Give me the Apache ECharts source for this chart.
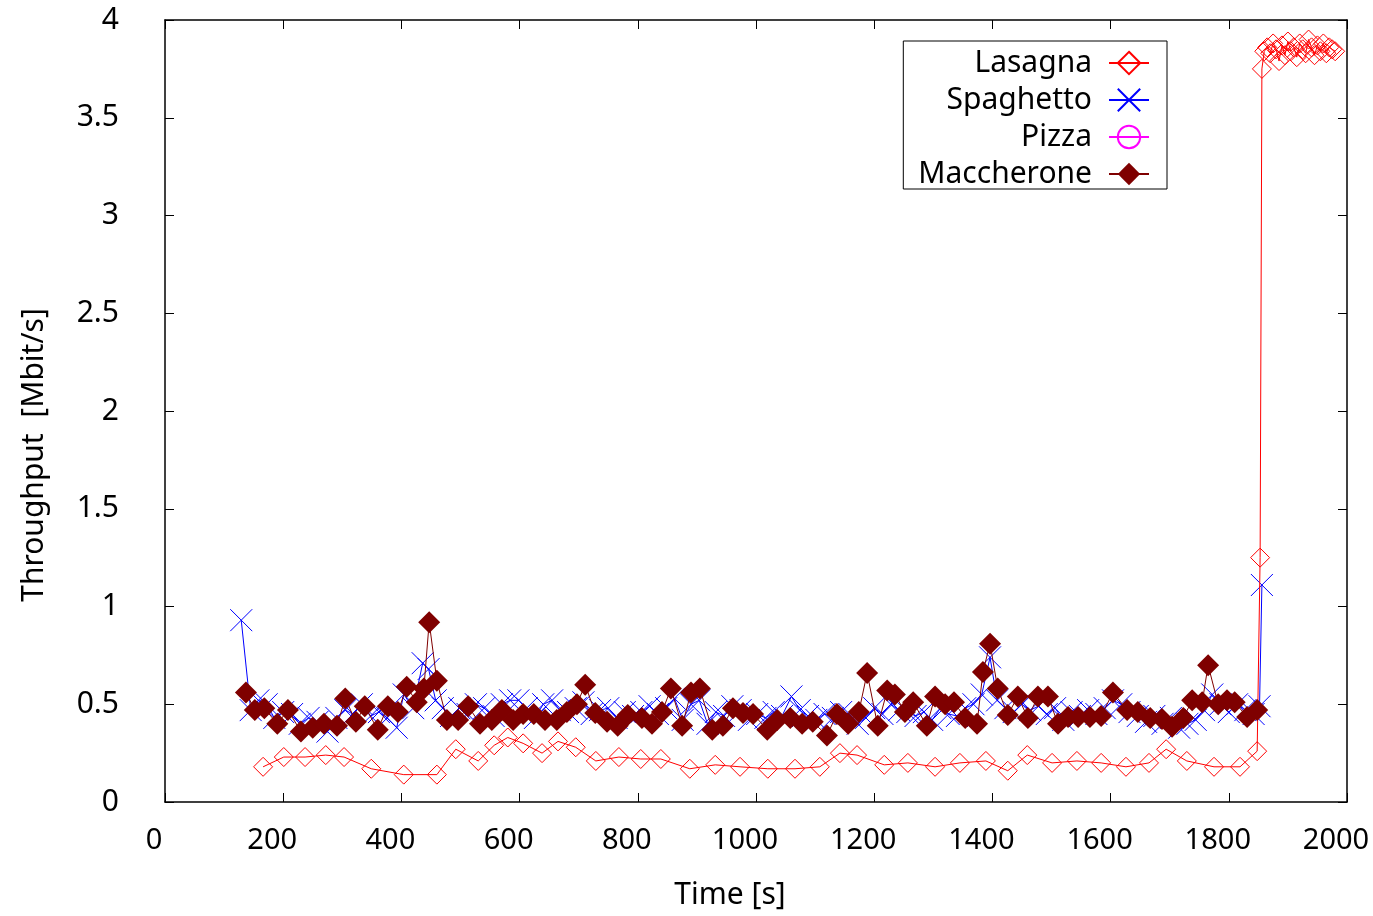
<!DOCTYPE html>
<html>
<head>
<meta charset="utf-8">
<title>Throughput</title>
<script src="https://cdn.jsdelivr.net/npm/echarts@6/dist/echarts.min.js"></script>
<style>
  html, body { margin: 0; padding: 0; background: #fff; overflow: hidden; }
  #chart { width: 100vw; height: 100vh; }
</style>
</head>
<body>
<div id="chart"></div>
<script>
// values: time [s] and throughput [Mbit/s]
var xTicks = [0, 200, 400, 600, 800, 1000, 1200, 1400, 1600, 1800, 2000]
var yTicks = [0, 0.5, 1, 1.5, 2, 2.5, 3, 3.5, 4]

var lasagnaTime = [166, 201, 237, 272, 303, 349, 404, 460, 492, 530, 557, 580, 606, 638, 665, 695,
  729, 768, 805, 839, 888, 931, 973, 1020, 1066, 1108, 1142, 1171, 1217, 1257, 1303, 1345, 1389,
  1426, 1459, 1501, 1543, 1584, 1626, 1665, 1694, 1729, 1775, 1819, 1848, 1853, 1856,
  1860, 1865, 1870, 1875, 1880, 1885, 1890, 1895, 1900, 1905, 1910, 1915, 1920, 1925, 1930,
  1935, 1940, 1945, 1950, 1955, 1960, 1965, 1970, 1975, 1980]
var lasagnaValue = [0.18, 0.23, 0.23, 0.24, 0.23, 0.17, 0.14, 0.14, 0.27, 0.21, 0.29, 0.33, 0.30, 0.25, 0.31, 0.28,
  0.21, 0.23, 0.22, 0.22, 0.17, 0.19, 0.18, 0.17, 0.17, 0.18, 0.25, 0.24, 0.19, 0.20, 0.18, 0.20, 0.21,
  0.16, 0.24, 0.20, 0.21, 0.20, 0.18, 0.20, 0.27, 0.21, 0.18, 0.18, 0.26, 1.25, 3.75,
  3.84, 3.86, 3.83, 3.88, 3.85, 3.79, 3.87, 3.82, 3.89, 3.84, 3.86, 3.81, 3.88, 3.85, 3.83,
  3.90, 3.86, 3.82, 3.87, 3.84, 3.88, 3.83, 3.86, 3.85, 3.84]

var spaghettoTime = [129, 145, 158, 172, 185, 200, 215, 228, 243, 258, 275, 290, 305, 318, 333, 348,
  362, 376, 392, 404, 420, 436, 446, 458, 470, 484, 498, 512, 526, 540, 556, 570, 584, 598, 612,
  626, 640, 655, 668, 682, 695, 708, 722, 736, 750, 764, 778, 792, 806, 820, 834, 848, 862, 876,
  890, 904, 918, 932, 946, 960, 974, 988, 1002, 1016, 1030, 1044, 1060, 1074, 1088, 1102, 1116,
  1130, 1144, 1158, 1172, 1186, 1200, 1214, 1228, 1242, 1256, 1270, 1284, 1298, 1312, 1326, 1340,
  1354, 1368, 1382, 1396, 1408, 1422, 1436, 1450, 1464, 1478, 1492, 1506, 1520, 1534, 1548, 1562,
  1576, 1590, 1604, 1618, 1632, 1646, 1660, 1674, 1688, 1702, 1716, 1730, 1744, 1758, 1772, 1786,
  1800, 1814, 1828, 1842, 1852, 1856]
var spaghettoValue = [0.93, 0.47, 0.52, 0.50, 0.43, 0.46, 0.45, 0.40, 0.43, 0.41, 0.36, 0.43, 0.47, 0.45, 0.50, 0.44,
  0.46, 0.43, 0.38, 0.55, 0.48, 0.71, 0.68, 0.52, 0.48, 0.44, 0.48, 0.45, 0.50, 0.48, 0.44, 0.50, 0.52, 0.52, 0.48,
  0.43, 0.50, 0.52, 0.47, 0.46, 0.48, 0.51, 0.45, 0.47, 0.48, 0.43, 0.46, 0.44, 0.46, 0.49, 0.45, 0.48, 0.53, 0.42,
  0.50, 0.52, 0.40, 0.46, 0.44, 0.49, 0.47, 0.42, 0.45, 0.43, 0.46, 0.44, 0.54, 0.47, 0.44, 0.42, 0.45,
  0.43, 0.46, 0.45, 0.40, 0.43, 0.48, 0.45, 0.50, 0.47, 0.46, 0.44, 0.46, 0.42, 0.48, 0.45, 0.44,
  0.48, 0.50, 0.55, 0.74, 0.52, 0.48, 0.46, 0.50, 0.47, 0.49, 0.45, 0.48, 0.42, 0.46, 0.44, 0.47,
  0.45, 0.48, 0.52, 0.50, 0.46, 0.44, 0.41, 0.44, 0.40, 0.43, 0.38, 0.40, 0.42, 0.47, 0.55, 0.50,
  0.46, 0.50, 0.47, 0.45, 0.49, 1.11]

var pizzaTime = []
var pizzaValue = []

var maccheroneTime = [137, 152, 168, 190, 208, 230, 250, 269, 291, 305, 323, 338, 360, 377, 394, 409, 426, 438, 447, 460,
  477, 496, 513, 533, 553, 570, 589, 606, 624, 643, 663, 680, 697, 711, 728, 748, 766, 783, 807,
  824, 841, 856, 875, 890, 905, 926, 944, 961, 978, 995, 1019, 1036, 1058, 1078, 1096, 1120, 1137, 1156, 1174,
  1188, 1206, 1222, 1235, 1252, 1266, 1289, 1303, 1320, 1335, 1354, 1374, 1384, 1396, 1409, 1426, 1443, 1460, 1477, 1494, 1511,
  1528, 1545, 1565, 1584, 1604, 1628, 1646, 1667, 1687, 1704, 1723, 1738, 1755, 1765, 1782, 1797, 1810, 1831, 1848]
var maccheroneValue = [0.56, 0.47, 0.48, 0.40, 0.47, 0.36, 0.38, 0.40, 0.39, 0.53, 0.41, 0.49, 0.37, 0.49, 0.46, 0.59, 0.51, 0.58, 0.92, 0.62,
  0.42, 0.42, 0.49, 0.40, 0.42, 0.47, 0.42, 0.45, 0.45, 0.42, 0.42, 0.46, 0.50, 0.60, 0.455, 0.41, 0.39, 0.445, 0.43,
  0.40, 0.46, 0.58, 0.39, 0.56, 0.58, 0.37, 0.39, 0.48, 0.455, 0.45, 0.37, 0.42, 0.43, 0.40, 0.41, 0.34, 0.45, 0.40, 0.46,
  0.66, 0.39, 0.57, 0.55, 0.46, 0.51, 0.39, 0.54, 0.50, 0.51, 0.43, 0.40, 0.665, 0.81, 0.58, 0.445, 0.54, 0.43, 0.54, 0.54, 0.40,
  0.435, 0.435, 0.435, 0.44, 0.56, 0.47, 0.46, 0.43, 0.425, 0.385, 0.43, 0.52, 0.51, 0.70, 0.50, 0.52, 0.51, 0.435, 0.47]

function zip(xs, ys) {
  return xs.map(function (x, i) { return [x, ys[i]] })
}

var font = 'Noto Sans'
var chart = echarts.init(document.getElementById('chart'), null, { renderer: 'canvas' })

var tickStyle = { show: true, inside: true, length: 9, lineStyle: { color: '#000', width: 1 } }
var lineBox = { show: true, onZero: false, lineStyle: { color: '#000', width: 1.5 } }

chart.setOption({
  animation: false,
  backgroundColor: '#fff',
  grid: {
    left: 165,
    right: 26,
    top: 20,
    bottom: 114,
    containLabel: false,
    outerBoundsMode: 'none'
  },
  legend: {
    orient: 'vertical',
    align: 'right',
    right: 206,
    top: 41,
    padding: [7, 17, 0, 15],
    itemWidth: 40,
    itemHeight: 28,
    itemGap: 7,
    borderColor: '#000',
    borderWidth: 1,
    selectedMode: false,
    textStyle: {
      fontFamily: font,
      fontSize: 30,
      color: '#000',
      padding: [0, 12, 0, 0]
    },
    data: ['Lasagna', 'Spaghetto', 'Pizza', 'Maccherone']
  },
  xAxis: [{
    type: 'value',
    min: 0,
    max: 2000,
    interval: 200,
    name: 'Time [s]',
    nameLocation: 'middle',
    nameGap: 78,
    nameTextStyle: { fontFamily: font, fontSize: 30, color: '#000', padding: [0, 52, 0, 0] },
    axisLine: lineBox,
    axisTick: tickStyle,
    splitLine: { show: false },
    axisLabel: {
      fontFamily: font,
      fontSize: 29,
      color: '#000',
      margin: 24,
      padding: [0, 22, 0, 0],
      customValues: xTicks,
      formatter: function (v) { return String(v) }
    }
  }, {
    type: 'value',
    position: 'top',
    min: 0,
    max: 2000,
    interval: 200,
    axisLine: lineBox,
    axisTick: tickStyle,
    splitLine: { show: false },
    axisLabel: { show: false }
  }],
  yAxis: [{
    type: 'value',
    min: 0,
    max: 4,
    interval: 0.5,
    name: 'Throughput  [Mbit/s]',
    nameLocation: 'middle',
    nameGap: 116,
    nameTextStyle: { fontFamily: font, fontSize: 30, color: '#000', padding: [0, 88, 0, 0] },
    axisLine: lineBox,
    axisTick: tickStyle,
    splitLine: { show: false },
    axisLabel: {
      fontFamily: font,
      fontSize: 30,
      color: '#000',
      margin: 46,
      customValues: yTicks,
      formatter: function (v) { return String(v) }
    }
  }, {
    type: 'value',
    position: 'right',
    min: 0,
    max: 4,
    interval: 0.5,
    axisLine: lineBox,
    axisTick: tickStyle,
    splitLine: { show: false },
    axisLabel: { show: false }
  }],
  series: [{
    name: 'Lasagna',
    type: 'line',
    data: zip(lasagnaTime, lasagnaValue),
    symbol: 'diamond',
    symbolSize: 19,
    z: 3,
    lineStyle: { color: '#ff0000', width: 1 },
    itemStyle: { color: 'rgba(0,0,0,0)', borderColor: '#ff0000', borderWidth: 1 }
  }, {
    name: 'Spaghetto',
    type: 'line',
    data: zip(spaghettoTime, spaghettoValue),
    symbol: 'path://M0,0L10,10M10,0L0,10',
    symbolSize: 22,
    z: 2,
    lineStyle: { color: '#0000ff', width: 1 },
    itemStyle: { color: 'rgba(0,0,0,0)', borderColor: '#0000ff', borderWidth: 1 }
  }, {
    name: 'Pizza',
    type: 'line',
    data: zip(pizzaTime, pizzaValue),
    symbol: 'circle',
    symbolSize: 20,
    lineStyle: { color: '#ff00ff', width: 1 },
    itemStyle: { color: 'rgba(0,0,0,0)', borderColor: '#ff00ff', borderWidth: 1 }
  }, {
    name: 'Maccherone',
    type: 'line',
    data: zip(maccheroneTime, maccheroneValue),
    symbol: 'diamond',
    symbolSize: 22,
    z: 4,
    lineStyle: { color: '#7f0000', width: 1 },
    itemStyle: { color: '#7f0000', borderColor: '#7f0000', borderWidth: 0 }
  }]
})
</script>
</body>
</html>
